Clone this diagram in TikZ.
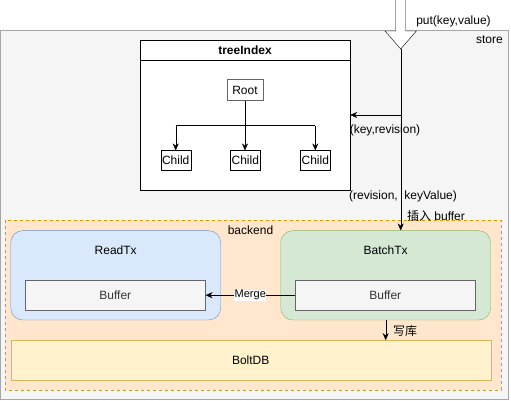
\documentclass[tikz,border=0pt]{standalone}
\usepackage{fontspec}
\setmainfont{Liberation Sans}
\newfontfamily\cjk{Noto Sans CJK SC}
\usetikzlibrary{arrows.meta}
\definecolor{storefill}{HTML}{F5F5F5}
\definecolor{storeline}{HTML}{A6A6A6}
\definecolor{backfill}{HTML}{FFE6CC}
\definecolor{backline}{HTML}{D79B00}
\definecolor{readfill}{HTML}{DAE8FC}
\definecolor{readline}{HTML}{6C8EBF}
\definecolor{batchfill}{HTML}{D5E8D4}
\definecolor{batchline}{HTML}{82B366}
\definecolor{boltfill}{HTML}{FFF2CC}
\definecolor{boltline}{HTML}{D6B656}
\definecolor{buffill}{HTML}{F5F5F5}
\definecolor{bufline}{HTML}{666666}
\definecolor{buftext}{HTML}{333333}
\begin{document}
\begin{tikzpicture}[x=1pt,y=-1pt,
    every node/.style={font=\fontsize{12}{14}\selectfont, inner sep=0pt},
    txbox/.style={draw, rounded corners=12pt, minimum width=210pt, minimum height=89.3pt},
    bufbox/.style={draw=bufline, fill=buffill, text=buftext, minimum width=180pt, minimum height=29.7pt},
    leaf/.style={draw, fill=white, minimum width=30pt, minimum height=19.3pt},
    flow/.style={-{Stealth[length=7pt,width=6pt]}}]
    \useasboundingbox (0,0) rectangle (511,401);
    % store
    \draw[storeline, fill=storefill] (0.5,30.5) rectangle (508.3,399);
    \node[anchor=east] (storelbl) at (503,40) {store};
    % treeIndex
    \node[draw, fill=white, minimum width=210pt, minimum height=150pt] (tree) at (245,115) {};
    \draw (tree.north west) ++(0,20.7) -- ++(210,0);
    \node[font=\fontsize{12}{14}\selectfont\bfseries] (treelbl) at (245,50.3) {treeIndex};
    \node[draw=black!60, line width=1pt, fill=white, minimum width=36pt, minimum height=20.7pt] (root) at (245,90.3) {Root};
    \node[leaf] (childa) at (175.7,160.3) {Child};
    \node[leaf] (childb) at (245.3,160.3) {Child};
    \node[leaf] (childc) at (315.3,160.3) {Child};
    \coordinate (fork) at (245,125.7);
    \draw[flow] (root.south) -- (root.south |- childb.north);
    \draw[flow] (fork -| childa) -- (childa.north);
    \draw (fork -| childa) -- (fork -| childc);
    \draw[flow] (fork -| childc) -- (childc.north);
    % put arrow
    \draw[fill=white] (395.7,-2) -- (395.7,31) -- (385,31) -- (400.7,49) -- (416.4,31)
        -- (405.7,31) -- (405.7,-2);
    \coordinate (puttip) at (400.7,49);
    \node (putlbl) at (453.5,21) {put(key,value)};
    % backend
    \draw[backline, fill=backfill, dashed] (5,220) rectangle (501,390);
    \node (backlbl) at (250.5,230.7) {backend};
    \node[txbox, draw=readline, fill=readfill] (readtx) at (115.7,275.3) {};
    \node (readlbl) at (115.7,250.7) {ReadTx};
    \node[bufbox] (bufl) at (115.3,295.2) {Buffer};
    \node[txbox, draw=batchline, fill=batchfill] (batchtx) at (385.7,275.3) {};
    \node (batchlbl) at (385.7,250.7) {BatchTx};
    \node[bufbox] (bufr) at (385.3,295.2) {Buffer};
    \node[draw=boltline, fill=boltfill, minimum width=480pt, minimum height=39.7pt] (bolt) at (250.7,360.2) {BoltDB};
    % connectors
    \draw[flow] (puttip) -- (puttip |- batchtx.north);
    \draw[flow] (tree.east -| puttip) -- (tree.east);
    \node (keyrev) at (385,130) {(key,revision)};
    \node (revkv) at (403,196) {(revision,\ \ keyValue)};
    \node (insert) at (436,216) {{\cjk 插入} buffer};
    \draw[flow] (bufr.west) -- node[fill=white, font=\fontsize{11}{13}\selectfont, inner sep=0.5pt] (mergelbl) {Merge} (bufl.east);
    \draw[flow] (batchtx.south -| 385.7,0) -- (bolt.north -| 385.7,0);
    \node (writelbl) at (405,331) {\cjk 写库};
\end{tikzpicture}
\end{document}
